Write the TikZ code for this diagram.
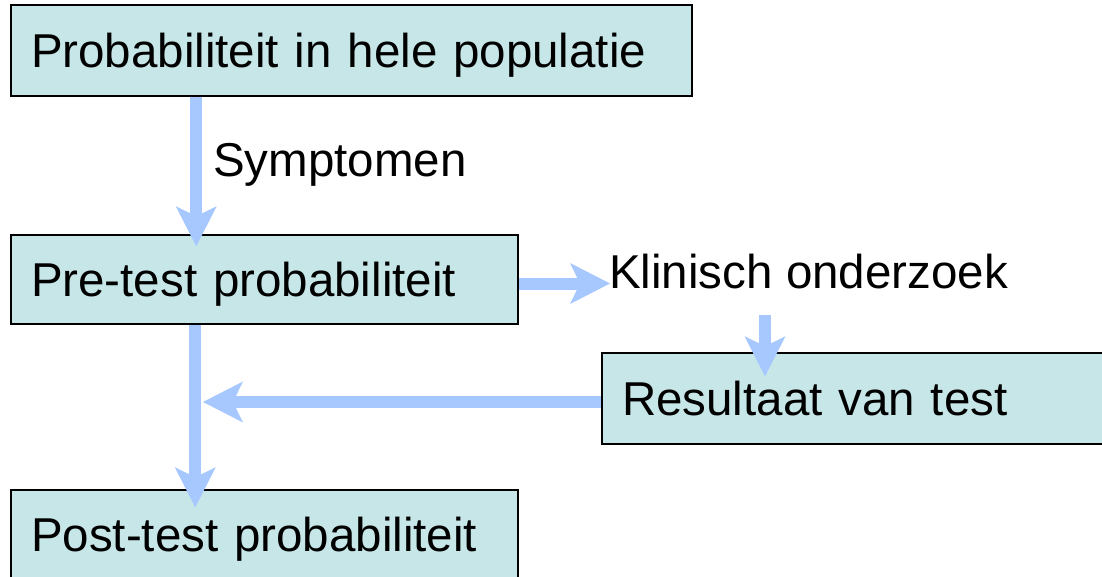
\documentclass[tikz,border=0pt]{standalone}
\usepackage{fontspec}
\setmainfont{Liberation Sans}
\usetikzlibrary{arrows.meta,shadows}
\definecolor{boxfill}{RGB}{198,230,232}
\definecolor{flowblue}{RGB}{166,200,255}
\begin{document}
\begin{tikzpicture}[x=1pt,y=-1pt,
  box/.style={draw=black, line width=1.5pt, fill=boxfill, inner xsep=20pt, inner ysep=0pt,
    text height=34pt, text depth=0pt, align=left, font=\fontsize{47.5}{57}\selectfont,
    drop shadow={shadow xshift=1.3pt, shadow yshift=-1.3pt, fill=black!55, opacity=1}},
  lbl/.style={inner sep=0pt, anchor=base west, font=\fontsize{47.5}{57}\selectfont},
  flow/.style={draw=flowblue, line width=12pt,
    -{Stealth[length=40pt,width=41pt,inset=10pt,line width=0pt]}}]
\useasboundingbox (0,0) rectangle (1102,577);
\fill[white] (0,0) rectangle (1102,577);

\node[box, text width=641pt, minimum height=91pt] (b1) at (351.5,50.5) {Probabiliteit in hele populatie};
\node[box, text width=467pt, minimum height=89pt] (b2) at (264.5,279.5) {Pre-test probabiliteit};
\node[box, text width=464pt, minimum height=91pt] (b3) at (854,398.5) {Resultaat van test};
\node[box, text width=467pt, minimum height=89pt] (b4) at (264.5,534.5) {Post-test probabiliteit};

\node[lbl] (s) at (213,177) {Symptomen};
\node[lbl] (k) at (609,288) {Klinisch onderzoek};

% arrows
\draw[flow] ([xshift=186pt]b1.south west) -- ([xshift=186pt,yshift=-12pt]b2.north west);
\coordinate (a2s) at ([yshift=-4pt]b2.east);
\draw[flow, shorten >=-1pt] (a2s) -- (a2s -| k.west);
\coordinate (a3s) at ([xshift=156pt,yshift=-27pt]k.base west);
\draw[flow, shorten >=-24pt] (a3s) -- (a3s |- b3.north);
\draw[flow, shorten >=-18pt] ([xshift=185pt]b2.south west) -- ([xshift=185pt]b4.north west);
\coordinate (j) at (203,402);
\draw[flow] ([yshift=-3.5pt]b3.west) -- (j);
\end{tikzpicture}
\end{document}
